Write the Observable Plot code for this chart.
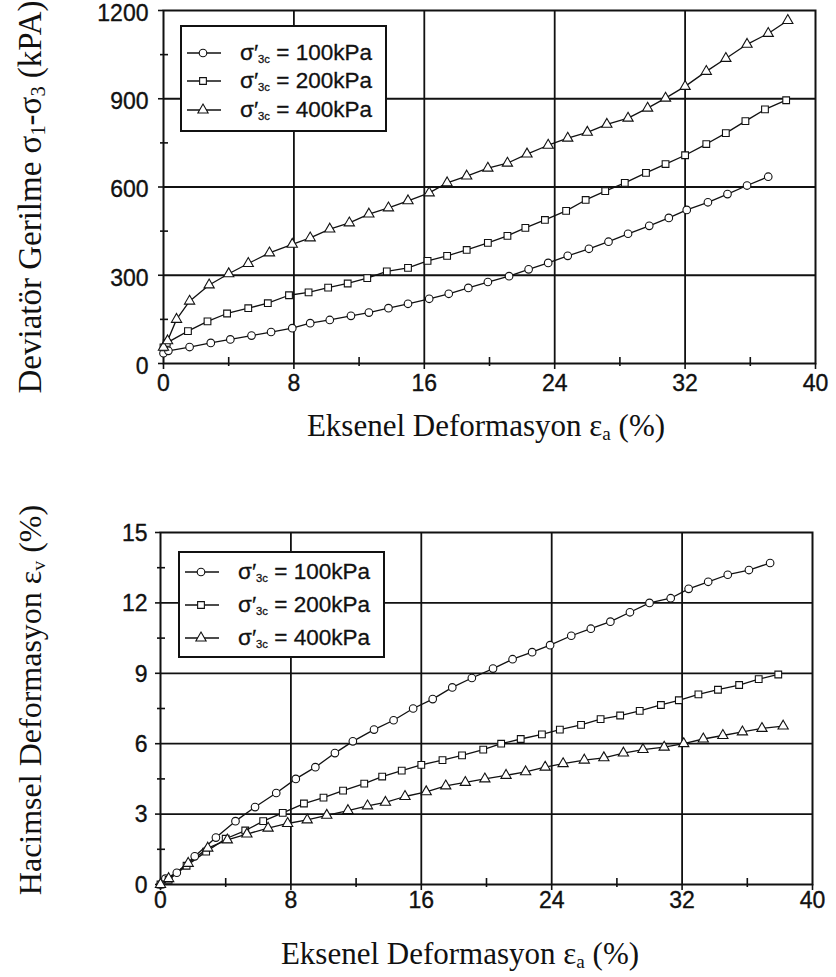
<!DOCTYPE html>
<html>
<head>
<meta charset="utf-8">
<script src="https://cdn.jsdelivr.net/npm/d3@7"></script>
<script src="https://cdn.jsdelivr.net/npm/@observablehq/plot@0.6"></script>
<style>
  html, body { margin: 0; padding: 0; background: #fff; }
  #wrap { position: relative; width: 836px; height: 977px; overflow: hidden; background: #fff; }
  .chart { position: absolute; left: 0; }
  .chart text { stroke: #111; stroke-width: 0.35px; }
  .title { position: absolute; white-space: nowrap; font-family: "Liberation Serif", "Times New Roman", serif; color: #111; line-height: 1; }
  .title sub { font-size: 0.62em; vertical-align: -0.22em; line-height: 0; }
  .ytitle { transform-origin: 0 0; transform: rotate(-90deg) translate(-50%, -50%); }
  .xtitle { transform: translate(-50%, 0); }
  .legend { position: absolute; background: #fff; border: 2px solid #111; box-sizing: border-box; }
  .lrow { position: absolute; left: 0; height: 24px; display: flex; align-items: center; transform: translateY(-50%); }
  .lrow svg { margin-left: 4px; }
  .lrow span { position: absolute; left: 58px; white-space: nowrap; font-family: "Liberation Sans", Arial, sans-serif; font-size: 22.5px; color: #111; -webkit-text-stroke: 0.3px #111; }
  .lrow sub { font-size: 0.5em; vertical-align: -0.3em; line-height: 0; }
</style>
</head>
<body>
<div id="wrap"></div>
<script>
// ---------------- data ----------------
const series = ["100", "200", "400"];
const symbols = ["circle", "square", "triangle"];
const xTicks = [0, 8, 16, 24, 32, 40];
const xMinor = [4, 12, 20, 28, 36];
const topYTicks = [0, 300, 600, 900, 1200];
const topYMinor = [150, 450, 750, 1050];
const botYTicks = [0, 3, 6, 9, 12, 15];
const botYMinor = [1.5, 4.5, 7.5, 10.5, 13.5];

// Top chart: deviator stress (kPa) vs axial strain (%)
const topX100 = [0, 0.3, 1.6, 2.9, 4.1, 5.4, 6.6, 7.9, 9.0, 10.2, 11.5, 12.6, 13.8, 15.0, 16.3, 17.5, 18.7, 19.9, 21.2, 22.4, 23.6, 24.8, 26.1, 27.3, 28.5, 29.8, 31.0, 32.1, 33.4, 34.6, 35.8, 37.1];
const topY100 = [35, 43, 56, 70, 82, 95, 107, 120, 137, 148, 162, 173, 188, 203, 220, 237, 257, 277, 297, 320, 342, 366, 390, 414, 441, 468, 495, 522, 548, 576, 605, 635];
const topX200 = [0, 0.2, 1.5, 2.7, 3.9, 5.2, 6.4, 7.7, 8.9, 10.1, 11.3, 12.5, 13.7, 15.0, 16.2, 17.4, 18.6, 19.9, 21.1, 22.2, 23.4, 24.7, 25.9, 27.1, 28.3, 29.6, 30.8, 32.0, 33.3, 34.5, 35.7, 36.9, 38.2];
const topY200 = [55, 70, 110, 143, 170, 188, 205, 232, 242, 258, 272, 290, 313, 325, 349, 366, 386, 410, 434, 461, 488, 519, 556, 586, 614, 648, 678, 708, 746, 783, 824, 864, 895];
const topX400 = [0, 0.25, 0.8, 1.6, 2.8, 4.0, 5.2, 6.5, 7.9, 9.0, 10.2, 11.4, 12.6, 13.8, 15.0, 16.3, 17.4, 18.6, 19.9, 21.1, 22.3, 23.6, 24.8, 26.0, 27.2, 28.5, 29.7, 30.8, 32.0, 33.3, 34.5, 35.8, 37.1, 38.3];
const topY400 = [55, 77, 150, 212, 267, 305, 340, 376, 405, 427, 457, 478, 508, 529, 553, 580, 614, 637, 664, 681, 712, 742, 766, 786, 813, 834, 868, 902, 942, 993, 1037, 1085, 1122, 1166];

// Bottom chart: volumetric strain (%) vs axial strain (%)
const botX100 = [0, 0.3, 1.0, 2.1, 3.4, 4.6, 5.8, 7.1, 8.3, 9.5, 10.7, 11.8, 13.1, 14.3, 15.5, 16.7, 17.9, 19.1, 20.4, 21.6, 22.8, 23.9, 25.2, 26.4, 27.6, 28.8, 30.0, 31.3, 32.4, 33.6, 34.8, 36.1, 37.4];
const botY100 = [0, 0.25, 0.5, 1.2, 2.0, 2.7, 3.3, 3.9, 4.5, 5.0, 5.6, 6.1, 6.6, 7.0, 7.5, 7.9, 8.4, 8.8, 9.2, 9.6, 9.9, 10.2, 10.6, 10.9, 11.2, 11.6, 12.0, 12.2, 12.6, 12.9, 13.2, 13.4, 13.7];
const botX200 = [0, 0.5, 1.6, 2.8, 4.0, 5.2, 6.3, 7.5, 8.8, 10.0, 11.2, 12.5, 13.6, 14.8, 16.0, 17.3, 18.5, 19.8, 20.9, 22.1, 23.4, 24.5, 25.8, 27.0, 28.2, 29.4, 30.7, 31.8, 33.0, 34.2, 35.5, 36.7, 37.9];
const botY200 = [0, 0.2, 0.8, 1.4, 1.95, 2.3, 2.7, 3.05, 3.45, 3.7, 4.0, 4.3, 4.6, 4.85, 5.1, 5.3, 5.5, 5.75, 6.0, 6.2, 6.4, 6.6, 6.8, 7.05, 7.2, 7.4, 7.65, 7.85, 8.1, 8.3, 8.5, 8.75, 8.95];
const botX400 = [0, 0.5, 1.7, 2.9, 4.1, 5.3, 6.6, 7.8, 9.0, 10.2, 11.5, 12.7, 13.8, 15.0, 16.3, 17.5, 18.7, 19.9, 21.2, 22.4, 23.6, 24.7, 26.0, 27.2, 28.4, 29.6, 30.9, 32.1, 33.3, 34.5, 35.7, 36.9, 38.2];
const botY400 = [0, 0.25, 0.9, 1.55, 1.9, 2.15, 2.4, 2.6, 2.75, 2.95, 3.15, 3.35, 3.5, 3.75, 3.95, 4.2, 4.35, 4.5, 4.65, 4.8, 5.0, 5.15, 5.3, 5.4, 5.6, 5.75, 5.85, 6.0, 6.2, 6.35, 6.5, 6.65, 6.75];

function table(xs, ys) {
  const out = [];
  xs.forEach((xArr, i) => xArr.forEach((x, j) => out.push({s: series[i], x, y: ys[i][j]})));
  return out;
}
const topData = table([topX100, topX200, topX400], [topY100, topY200, topY400]);
const botData = table([botX100, botX200, botX400], [botY100, botY200, botY400]);

// ---------------- drawing ----------------
const ink = "#111";
function chart({data, yDomain, yTicks, yMinor, height, ml, mr, mt, mb, xPad, yGap, yDy}) {
  const width = 836;
  const innerW = width - ml - mr, innerH = height - mt - mb;
  return Plot.plot({
    width, height, marginLeft: ml, marginRight: mr, marginTop: mt, marginBottom: mb,
    style: {fontFamily: "'Liberation Sans', Arial, sans-serif", fontSize: "23px", color: ink, background: "transparent", overflow: "visible"},
    x: {domain: [0, 40]},
    y: {domain: yDomain},
    symbol: {domain: series, range: symbols},
    marks: [
      Plot.ruleX(xTicks.slice(1, -1), {stroke: ink, strokeWidth: 1.8}),
      Plot.ruleY(yTicks.slice(1, -1), {stroke: ink, strokeWidth: 1.8}),
      Plot.tickX(xMinor, {x: d => d, stroke: ink, strokeWidth: 1.6, insetTop: innerH - 6, insetBottom: -3}),
      Plot.tickY(yMinor, {y: d => d, stroke: ink, strokeWidth: 1.6, insetRight: innerW - 5, insetLeft: -3}),
      Plot.tickY(yTicks, {y: d => d, stroke: ink, strokeWidth: 1.6, insetRight: innerW, insetLeft: -5}),
      Plot.frame({stroke: ink, strokeWidth: 2}),
      Plot.axisX(xTicks, {tickSize: 6, tickPadding: xPad, strokeWidth: 1.6, label: null, tickFormat: d => String(d), fill: ink}),
      Plot.axisY(yTicks, {tickSize: 0, tickPadding: yGap, dy: yDy, label: null, tickFormat: d => String(d), fill: ink}),
      Plot.line(data, {x: "x", y: "y", z: "s", stroke: ink, strokeWidth: 1.3}),
      Plot.dot(data, {x: "x", y: "y", symbol: "s", r: 3.8, fill: "white", stroke: ink, strokeWidth: 1.1})
    ]
  });
}

const wrap = document.getElementById("wrap");

const top1 = chart({data: topData, yDomain: [0, 1200], yTicks: topYTicks, yMinor: topYMinor,
  height: 400, ml: 163, mr: 21, mt: 10, mb: 37, xPad: 5, yGap: 15, yDy: 3});
top1.classList.add("chart"); top1.style.top = "0px";
wrap.appendChild(top1);

const bot1 = chart({data: botData, yDomain: [0, 15], yTicks: botYTicks, yMinor: botYMinor,
  height: 440, ml: 160, mr: 24, mt: 52, mb: 36, xPad: 1, yGap: 13, yDy: 1});
bot1.classList.add("chart"); bot1.style.top = "480px";
wrap.appendChild(bot1);

// ---------------- titles ----------------
function addTitle(html, cls, left, top, size) {
  const d = document.createElement("div");
  d.className = "title " + cls;
  d.style.left = left + "px";
  d.style.top = top + "px";
  d.style.fontSize = size + "px";
  d.innerHTML = html;
  wrap.appendChild(d);
}
addTitle("Deviatör Gerilme σ<sub>1</sub>-σ<sub>3</sub> (kPA)", "ytitle", 30, 197, 33);
addTitle("Eksenel Deformasyon ε<sub>a</sub> (%)", "xtitle", 486, 410, 31);
addTitle("Hacimsel Deformasyon ε<sub>v</sub> (%)", "ytitle", 30, 700, 32);
addTitle("Eksenel Deformasyon ε<sub>a</sub> (%)", "xtitle", 460, 938, 31);

// ---------------- legends ----------------
function symbolPath(sym) {
  const size = Math.PI * 3.8 * 3.8;
  const t = {circle: d3.symbolCircle, square: d3.symbolSquare, triangle: d3.symbolTriangle}[sym];
  return d3.symbol(t, size)();
}
function addLegend(left, top, rowYs) {
  const box = document.createElement("div");
  box.className = "legend";
  box.style.left = left + "px";
  box.style.top = top + "px";
  box.style.width = "207px";
  box.style.height = "107px";
  series.forEach((s, i) => {
    const row = document.createElement("div");
    row.className = "lrow";
    row.style.top = rowYs[i] + "px";
    row.innerHTML =
      `<svg width="36" height="14" viewBox="0 0 36 14">` +
      `<line x1="1" y1="7" x2="35" y2="7" stroke="${ink}" stroke-width="1.3"/>` +
      `<path d="${symbolPath(symbols[i])}" transform="translate(17,7)" fill="white" stroke="${ink}" stroke-width="1.1"/>` +
      `</svg><span>σ′<sub>3c</sub> = ${s}kPa</span>`;
    box.appendChild(row);
  });
  wrap.appendChild(box);
}
addLegend(180, 25, [26, 54, 83]);
addLegend(178, 551, [19, 52, 85]);
</script>
</body>
</html>
